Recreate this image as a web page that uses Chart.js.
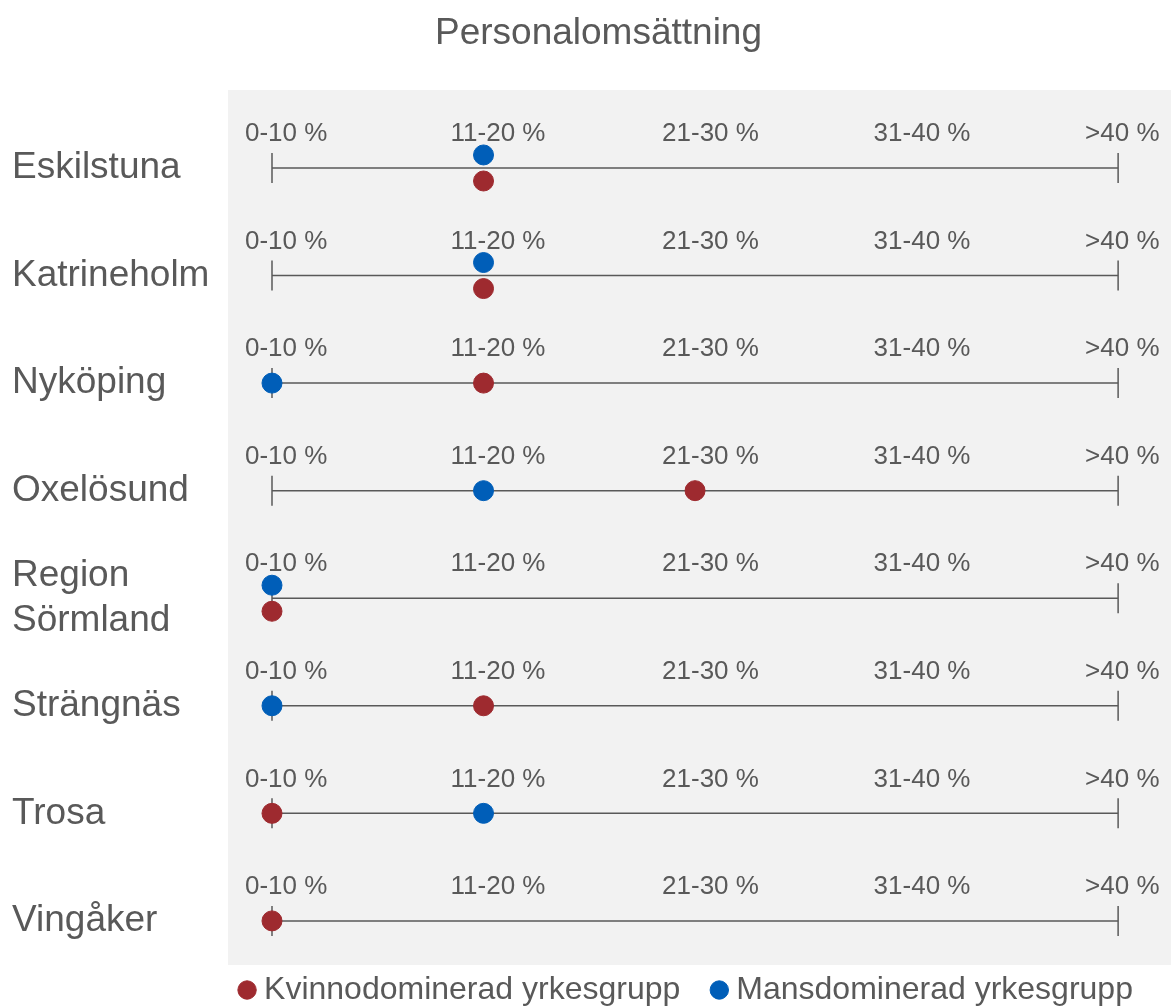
<!DOCTYPE html>
<html>
<head>
<meta charset="utf-8">
<script src="https://cdn.jsdelivr.net/npm/chart.js@4/dist/chart.umd.min.js"></script>
<style>
  html, body { margin: 0; padding: 0; background: #fff; overflow: hidden; }
  canvas { display: block; }
</style>
</head>
<body>
<canvas id="omsChart" width="1171" height="1008"></canvas>
<script>
const kommuner = ['Eskilstuna', 'Katrineholm', 'Nyköping', 'Oxelösund', ['Region', 'Sörmland'], 'Strängnäs', 'Trosa', 'Vingåker'];
const intervall = ['0-10 %', '11-20 %', '21-30 %', '31-40 %', '>40 %'];
// index in intervall, null = no value
const kvinnodominerad = [1, 1, 1, 2, 0, 1, 0, 0];
const mansdominerad = [1, 1, 0, 1, 0, 0, 1, null];

const textColor = '#595959';
const lineColor = '#595959';
const red = '#9e2a2f';
const blue = '#005eb8';
const fontFamily = '"Liberation Sans", Arial, sans-serif';
const shift = 0.121; // vertical nudge when both groups share an interval

const toPoints = (vals, other, dir) => vals
    .map((v, i) => v === null ? null : {x: v, y: v === other[i] ? i + dir * shift : i})
    .filter(p => p !== null);

const kPoints = toPoints(kvinnodominerad, mansdominerad, 1);
const mPoints = toPoints(mansdominerad, kvinnodominerad, -1);

const rowLines = kommuner.map((k, i) => ({
    type: 'line',
    label: 'row' + i,
    data: [{x: 0, y: i}, {x: intervall.length - 1, y: i}],
    borderColor: lineColor,
    borderWidth: 1.5,
    pointStyle: 'line',
    pointRotation: 90,
    pointRadius: 15,
    pointHoverRadius: 15,
    pointBorderColor: lineColor,
    pointBorderWidth: 1.5,
    fill: false
}));

const bgPlugin = {
    id: 'bg',
    beforeDraw(chart) {
        const {ctx, chartArea: a} = chart;
        ctx.save();
        ctx.fillStyle = '#f2f2f2';
        ctx.fillRect(a.left, a.top, a.right - a.left, a.bottom - a.top);
        ctx.restore();
    }
};

// interval labels repeated above every row
const rowTicksPlugin = {
    id: 'rowTicks',
    afterDatasetsDraw(chart) {
        const {ctx, scales: {x, y}} = chart;
        ctx.save();
        ctx.font = '26px ' + fontFamily;
        ctx.fillStyle = textColor;
        ctx.textAlign = 'left';
        ctx.textBaseline = 'middle';
        kommuner.forEach((k, i) => {
            const py = y.getPixelForValue(i) - 34;
            intervall.forEach((lab, j) => {
                ctx.fillText(lab, x.getPixelForValue(j) - (j === 0 ? 27 : 33), py);
            });
        });
        ctx.restore();
    }
};

// nudge legend and title to where the original has them
const placeBoxes = {
    id: 'placeBoxes',
    afterLayout(chart) {
        chart.legend.left += 98;
        chart.legend.right += 98;
        chart.legend.top -= 29;
        chart.legend.bottom -= 29;
        chart.titleBlock.left += 7;
        chart.titleBlock.right += 7;
    }
};

new Chart(document.getElementById('omsChart'), {
    type: 'scatter',
    data: {
        datasets: [
            {
                label: 'Kvinnodominerad yrkesgrupp',
                data: kPoints,
                backgroundColor: red,
                borderColor: red,
                pointRadius: 10,
                pointHoverRadius: 10
            },
            {
                label: 'Mansdominerad yrkesgrupp',
                data: mPoints,
                backgroundColor: blue,
                borderColor: blue,
                pointRadius: 10,
                pointHoverRadius: 10
            },
            ...rowLines
        ]
    },
    options: {
        responsive: false,
        animation: false,
        events: [],
        layout: {autoPadding: false, padding: {left: 12, right: 0, top: 12, bottom: -37}},
        scales: {
            x: {
                type: 'linear',
                display: false,
                min: -0.208,
                max: 4.25
            },
            y: {
                type: 'linear',
                reverse: true,
                min: -0.725,
                max: 7.41,
                grid: {display: false},
                border: {display: false},
                afterBuildTicks: (scale) => {
                    scale.ticks = kommuner.map((k, i) => ({value: i}));
                },
                afterFit: (scale) => {
                    scale.width = 216;
                },
                ticks: {
                    crossAlign: 'far',
                    padding: 0,
                    color: textColor,
                    font: {family: fontFamily, size: 37, lineHeight: 1.22},
                    callback: (value) => kommuner[value]
                }
            }
        },
        plugins: {
            title: {
                display: true,
                text: 'Personalomsättning',
                color: textColor,
                font: {family: fontFamily, size: 37, weight: 'normal', lineHeight: 1.2},
                padding: {top: 0, bottom: 33.6}
            },
            legend: {
                position: 'bottom',
                labels: {
                    color: textColor,
                    font: {family: fontFamily, size: 32},
                    usePointStyle: true,
                    pointStyle: 'circle',
                    boxWidth: 2,
                    boxHeight: 13,
                    padding: 38,
                    filter: (item) => item.datasetIndex < 2
                }
            },
            tooltip: {enabled: false}
        }
    },
    plugins: [bgPlugin, rowTicksPlugin, placeBoxes]
});
</script>
</body>
</html>
